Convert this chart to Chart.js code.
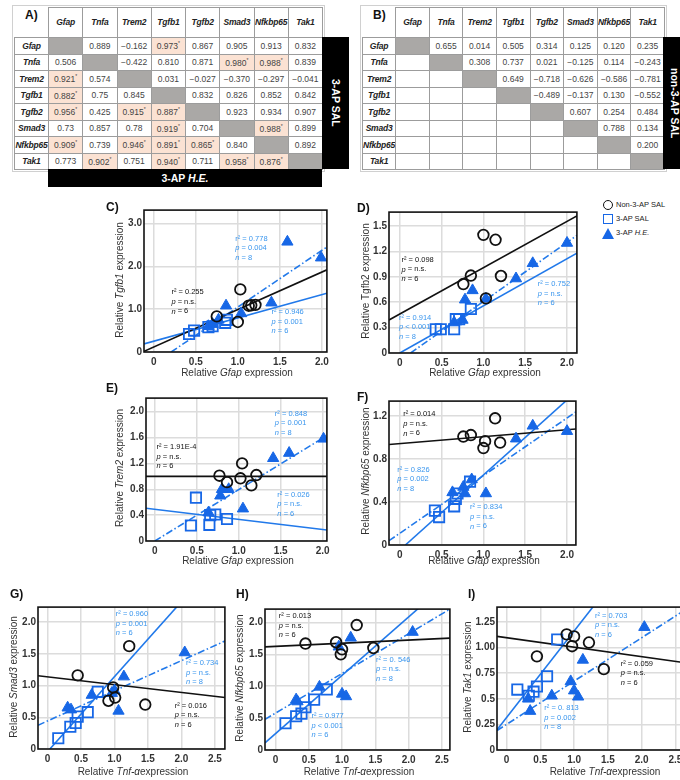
<!DOCTYPE html>
<html>
<head>
<meta charset="utf-8">
<script src="https://cdn.jsdelivr.net/npm/chart.js@4.4.1/dist/chart.umd.min.js"></script>
<style>
body{margin:0;background:#fff;font-family:"Liberation Sans",Arial,sans-serif;}
#page{position:relative;width:680px;height:780px;overflow:hidden;background:#fff;}
.abs{position:absolute;white-space:nowrap;}
.letter{font-weight:bold;font-size:12px;color:#111;}
.ytitle{font-size:10px;color:#333;transform:translate(-50%,-50%) rotate(-90deg);}
.xtitle{font-size:10px;color:#333;transform:translate(-50%,-50%);}
table.corr{position:absolute;border-collapse:collapse;table-layout:fixed;font-size:8.5px;color:#444;outline:1px solid #d0d0d0;outline-offset:1px;}
table.corr td{border:1px solid #9c9c9c;text-align:center;padding:0;line-height:1;overflow:hidden;white-space:nowrap;}
table.corr tr{height:16.5px;}
table.corr tr.head{height:30px;}
table.corr td.gene{font-weight:bold;font-style:italic;color:#222;font-size:8.5px;letter-spacing:-0.2px;}
table.corr td.diag{background:#aaa8a6;}
table.corr td.hi{background:#fbe2d3;}
table.corr sup{font-size:5px;}
.bar{position:absolute;background:#000;color:#fff;font-weight:bold;font-size:10.5px;display:flex;align-items:center;justify-content:center;}
.vbar{writing-mode:vertical-rl;}
.leg{position:absolute;font-size:7.5px;color:#222;white-space:nowrap;}
</style>
</head>
<body>
<div id="page"></div>
<script>
//genes in the correlation tables
const genes = ['Gfap','Tnfa','Trem2','Tgfb1','Tgfb2','Smad3','Nfkbp65','Tak1'];

//table A (3-AP groups), '*' = significant
const tableA = [
    ['', '0.889', '−0.162', '0.973*', '0.867', '0.905', '0.913', '0.832'],
    ['0.506', '', '−0.422', '0.810', '0.871', '0.980*', '0.988*', '0.839'],
    ['0.921*', '0.574', '', '0.031', '−0.027', '−0.370', '−0.297', '−0.041'],
    ['0.882*', '0.75', '0.845', '', '0.832', '0.826', '0.852', '0.842'],
    ['0.956*', '0.425', '0.915*', '0.887*', '', '0.923', '0.934', '0.907'],
    ['0.73', '0.857', '0.78', '0.919*', '0.704', '', '0.988*', '0.899'],
    ['0.909*', '0.739', '0.946*', '0.891*', '0.865*', '0.840', '', '0.892'],
    ['0.773', '0.902*', '0.751', '0.940*', '0.711', '0.958*', '0.876*', '']
];

//table B (non-3-AP SAL)
const tableB = [
    ['', '0.655', '0.014', '0.505', '0.314', '0.125', '0.120', '0.235'],
    ['', '', '0.308', '0.737', '0.021', '−0.125', '0.114', '−0.243'],
    ['', '', '', '0.649', '−0.718', '−0.626', '−0.586', '−0.781'],
    ['', '', '', '', '−0.489', '−0.137', '0.130', '−0.552'],
    ['', '', '', '', '', '0.607', '0.254', '0.484'],
    ['', '', '', '', '', '', '0.788', '0.134'],
    ['', '', '', '', '', '', '', '0.200'],
    ['', '', '', '', '', '', '', '']
];

//tick labels
const gfapTicks = ['0','0.5','1.0','1.5','2.0'];
const tnfTicks = ['0','0.5','1.0','1.5','2.0','2.5'];
const cTicksY = ['0','1.0','2.0','3.0'];
const dTicksY = ['0','0.3','0.6','0.9','1.2','1.5'];
const eTicksY = ['0','0.4','0.8','1.2','1.6','2.0'];
const fTicksY = ['0','0.4','0.8','1.2'];
const ghTicksY = ['0','0.5','1.0','1.5','2.0'];
const iTicksY = ['0','0.25','0.5','0.75','1.00','1.25'];

//C) Tgfb1 vs Gfap
const cNon = [[0.75,0.83],[1.03,1.46],[1.0,0.7],[1.13,1.08],[1.21,1.1],[1.16,1.09]];
const cSal = [[0.42,0.42],[0.48,0.5],[0.65,0.58],[0.7,0.6],[0.85,0.68],[0.87,0.75]];
const cHe = [[0.65,0.6],[0.7,0.65],[0.77,0.75],[0.86,1.08],[1.04,0.9],[1.4,1.15],[1.59,2.57],[1.99,2.2]];
const cFitNon = [[-0.116,0.016],[2.06,1.917]];
const cFitSal = [[-0.116,0.19],[2.06,1.37]];
const cFitHe = [[0.207,0],[2.06,2.45]];
const cNotes = [['r² = 0.255','p = n.s.','n = 6'],['r² = 0.778','p = 0.004','n = 8'],['r² = 0.946','p = 0.001','n = 6']];

//D) Tgfb2 vs Gfap
const dNon = [[1.0,1.396],[1.145,1.338],[0.85,0.915],[0.76,0.815],[1.21,0.91],[1.03,0.646]];
const dSal = [[0.43,0.28],[0.49,0.28],[0.65,0.28],[0.67,0.4],[0.71,0.4],[0.85,0.52]];
const dHe = [[0.65,0.36],[0.75,0.39],[0.78,0.63],[0.87,0.74],[1.03,0.64],[1.39,0.88],[1.59,1.06],[2.0,1.3]];
const dFitNon = [[-0.129,0.39],[2.118,1.62]];
const dFitSal = [[0,0],[2.118,1.18]];
const dFitHe = [[0.13,0],[2.118,1.39]];
const dNotes = [['r² = 0.098','p = n.s.','n = 6'],['r² = 0.914','p < 0.001','n = 8'],['r² = 0.752','p = n.s.','n = 6']];

//E) Trem2 vs Gfap
const eNon = [[0.77,1.01],[0.86,0.91],[1.02,0.97],[1.04,1.2],[1.21,1.02],[1.15,0.86]];
const eSal = [[0.43,0.24],[0.49,0.67],[0.65,0.25],[0.66,0.4],[0.72,0.41],[0.86,0.34]];
const eHe = [[0.64,0.44],[0.78,0.7],[0.8,0.8],[0.88,0.8],[1.05,0.5],[1.41,1.28],[1.6,1.36],[2.01,1.58]];
const eFitNon = [[-0.105,1.0],[2.05,1.0]];
const eFitSal = [[-0.105,0.506],[2.05,0.17]];
const eFitHe = [[0,0],[2.05,1.63]];
const eNotes = [['r² = 1.91E-4','p = n.s.','n = 6'],['r² = 0.848','p = 0.001','n = 8'],['r² = 0.026','p = n.s.','n = 6']];

//F) Nfkbp65 vs Gfap
const fNon = [[0.76,1.01],[0.85,1.024],[1.02,0.967],[1.0,0.903],[1.14,1.18],[1.2,0.954]];
const fSal = [[0.42,0.32],[0.47,0.26],[0.65,0.36],[0.67,0.43],[0.69,0.48],[0.84,0.59]];
const fHe = [[0.63,0.49],[0.76,0.54],[0.78,0.48],[0.86,0.61],[1.03,0.48],[1.39,0.99],[1.59,1.11],[2.0,1.06]];
const fFitNon = [[-0.129,0.936],[2.106,1.08]];
const fFitSal = [[0.067,0],[2.106,1.425]];
const fFitHe = [[-0.129,0.04],[2.106,1.24]];
const fNotes = [['r² = 0.014','p = n.s.','n = 6'],['r² = 0.826','p = 0.002','n = 8'],['r² = 0.834','p = n.s.','n = 6']];

//G) Smad3 vs Tnf-a
const gNon = [[0.45,1.16],[1.22,1.62],[0.98,0.97],[0.91,0.76],[1.01,0.81],[1.46,0.7]];
const gSal = [[0.16,0.17],[0.34,0.35],[0.42,0.41],[0.45,0.51],[0.6,0.58],[0.75,0.9]];
const gHe = [[0.3,0.65],[0.35,0.62],[0.66,0.85],[0.96,0.88],[1.0,0.92],[1.06,0.6],[1.14,1.14],[2.05,1.52]];
const gFitNon = [[-0.143,1.154],[2.65,0.81]];
const gFitSal = [[0.034,0],[2.0,2.32]];
const gFitHe = [[-0.143,0.374],[2.65,1.7]];
const gNotes = [['r² = 0.016','p = n.s.','n = 6'],['r² = 0.734','p = n.s.','n = 8'],['r² = 0.960','p = 0.001','n = 6']];

//H) Nfkbp65 vs Tnf-a
const hNon = [[0.45,1.67],[0.91,1.69],[1.0,1.58],[0.98,1.5],[1.22,1.96],[1.47,1.6]];
const hSal = [[0.15,0.42],[0.31,0.53],[0.39,0.57],[0.45,0.67],[0.58,0.79],[0.77,0.95]];
const hHe = [[0.31,0.79],[0.33,0.76],[0.66,0.99],[0.95,1.62],[1.0,0.88],[1.06,0.84],[1.13,1.76],[2.06,1.85]];
const hFitNon = [[-0.158,1.617],[2.62,1.755]];
const hFitSal = [[-0.158,0.112],[2.2,2.27]];
const hFitHe = [[-0.158,0.48],[2.62,2.21]];
const hNotes = [['r² = 0.013','p = n.s.','n = 6'],['r² = 0. 546','p = n.s.','n = 8'],['r² = 0.977','p < 0.001','n = 6']];

//I) Tak1 vs Tnf-a
const iNon = [[0.45,0.915],[0.89,1.13],[1.0,1.11],[0.97,1.014],[1.22,1.05],[1.44,0.79]];
const iSal = [[0.16,0.59],[0.33,0.53],[0.4,0.57],[0.45,0.62],[0.6,0.72],[0.75,1.08]];
const iHe = [[0.32,0.5],[0.35,0.38],[0.67,0.53],[0.95,0.67],[1.0,0.58],[1.06,0.52],[1.13,0.88],[2.04,1.2]];
const iFitNon = [[-0.141,1.11],[2.67,0.85]];
const iFitSal = [[-0.141,0.198],[1.4,1.5]];
const iFitHe = [[-0.141,0.19],[2.67,1.38]];
const iNotes = [['r² = 0.059','p = n.s.','n = 6'],['r² = 0. 813','p = 0.002','n = 8'],['r² = 0.703','p = n.s.','n = 6']];

//colors
const black = '#111111';
const blue = '#1767e6';
const lineBlue = '#2179ea';
const noteBlue = '#3a96ee';

const page = document.getElementById('page');

function addText(html, cls, x, y){
    let d = document.createElement('div');
    d.className = 'abs ' + cls;
    d.style.left = x + 'px';
    d.style.top = y + 'px';
    d.innerHTML = html;
    page.appendChild(d);
    return d;
}

//build a correlation table from rows of strings
function buildTable(rows, left, labelW, colW){
    let t = document.createElement('table');
    t.className = 'corr';
    t.style.left = left + 'px';
    t.style.top = '7px';
    let html = '<colgroup><col style="width:' + labelW + 'px">';
    for(let i=0;i<genes.length;i++) html += '<col style="width:' + colW + 'px">';
    html += '</colgroup><tr class="head"><td style="border-top-color:#fff;border-left-color:#fff"></td>';
    for(let g of genes) html += '<td class="gene">' + g + '</td>';
    html += '</tr>';
    for(let i=0;i<rows.length;i++){
        html += '<tr><td class="gene">' + genes[i] + '</td>';
        for(let j=0;j<rows[i].length;j++){
            let v = rows[i][j];
            if(i == j) html += '<td class="diag"></td>';
            else if(v.endsWith('*')) html += '<td class="hi">' + v.slice(0,-1) + '<sup>*</sup></td>';
            else html += '<td>' + v + '</td>';
        }
        html += '</tr>';
    }
    t.innerHTML = html;
    page.appendChild(t);
}

buildTable(tableA, 14, 34, 34.25);
buildTable(tableB, 362, 32, 33.6);
addText('A)', 'letter', 25, 8);
addText('B)', 'letter', 373, 8);

//black bars with group names
function addBar(html, cls, x, y, w, h){
    let d = document.createElement('div');
    d.className = 'bar ' + cls;
    d.style.left = x + 'px'; d.style.top = y + 'px';
    d.style.width = w + 'px'; d.style.height = h + 'px';
    d.innerHTML = '<span>' + html + '</span>';
    page.appendChild(d);
}
addBar('3-AP SAL', 'vbar', 322, 37, 27, 132);
addBar('3-AP <i>H.E.</i>', '', 48, 169, 274, 18);
addBar('non-3-AP SAL', 'vbar', 663, 37, 24, 132);

//draw text with italic parts on the canvas
function drawRich(ctx, x, y, parts){
    let cx = x;
    for(let p of parts){
        ctx.font = (p[1] ? 'italic ' : '') + '7.5px "Liberation Sans"';
        ctx.fillText(p[0], cx, y);
        cx += ctx.measureText(p[0]).width;
    }
}

//plugin: r2/p/n notes and the black frame
const framePlugin = {
    id: 'frame',
    afterDatasetsDraw(chart, args, opts){
        const ctx = chart.ctx;
        const a = chart.chartArea;
        ctx.save();
        ctx.textBaseline = 'middle';
        for(let n of opts.notes){
            let px = chart.scales.x.getPixelForValue(n.x);
            let py = chart.scales.y.getPixelForValue(n.y);
            ctx.fillStyle = n.color;
            n.lines.forEach((line, i) => {
                let parts = i == 0 ? [[line, false]] : [[line[0], true], [line.slice(1), false]];
                drawRich(ctx, px, py + i * 9.5, parts);
            });
        }
        ctx.strokeStyle = black;
        ctx.lineWidth = 1.6;
        ctx.strokeRect(a.left, a.top, a.right - a.left, a.bottom - a.top);
        ctx.restore();
    }
};

function toXY(arr){
    return arr.map(p => ({x: p[0], y: p[1]}));
}

function axis(range, ticks, size, isX){
    return {
        type: 'linear',
        min: range[0],
        max: range[1],
        afterBuildTicks: s => { s.ticks = ticks.map(t => ({value: parseFloat(t)})); },
        afterFit: s => { if(isX) s.height = size; else s.width = size; },
        ticks: {
            callback: (v, i) => ticks[i],
            font: {family: 'Liberation Sans', size: 10, weight: 'bold'},
            color: '#333',
            padding: isX ? 4 : 2,
            autoSkip: false,
            maxRotation: 0
        },
        grid: {color: '#dcdcdc', lineWidth: 1.5, drawTicks: false},
        border: {display: false}
    };
}

//one scatter panel
function makePanel(p){
    const yw = 30, xh = 20, pt = 6, pr = 6;
    const [L, T, R, B] = p.box;
    let c = document.createElement('canvas');
    c.width = R - L + yw + pr;
    c.height = B - T + pt + xh;
    c.style.position = 'absolute';
    c.style.left = (L - yw) + 'px';
    c.style.top = (T - pt) + 'px';
    page.appendChild(c);

    const fit = (d, color, dash) => ({data: toXY(d), showLine: true, pointRadius: 0, borderColor: color, borderWidth: 1.6, borderDash: dash});
    new Chart(c.getContext('2d'), {
        type: 'scatter',
        data: {
            datasets: [
                {data: toXY(p.non), pointStyle: 'circle', pointRadius: 5.3, borderColor: black, borderWidth: 1.8, backgroundColor: 'rgba(0,0,0,0)'},
                {data: toXY(p.sal), pointStyle: 'rect', pointRadius: 7.3, borderColor: blue, borderWidth: 1.8, backgroundColor: 'rgba(255,255,255,0)'},
                {data: toXY(p.he), pointStyle: 'triangle', pointRadius: 6.5, borderColor: blue, borderWidth: 1, backgroundColor: blue},
                fit(p.fits[0], black, []),
                fit(p.fits[1], lineBlue, []),
                fit(p.fits[2], lineBlue, [7, 2.5, 1.5, 2.5])
            ]
        },
        options: {
            responsive: false,
            animation: false,
            events: [],
            layout: {padding: {top: pt, right: pr, left: 0, bottom: 0}},
            plugins: {
                legend: {display: false},
                tooltip: {enabled: false},
                frame: {notes: p.notes}
            },
            scales: {
                x: axis(p.xr, p.xt, xh, true),
                y: axis(p.yr, p.yt, yw, false)
            }
        },
        plugins: [framePlugin]
    });

    addText(p.letter + ')', 'letter', p.letterAt[0], p.letterAt[1]);
    addText(p.ytitle, 'ytitle', p.yAt[0], p.yAt[1]);
    addText(p.xtitle, 'xtitle', p.xAt[0], p.xAt[1]);
}

const gfapTitle = 'Relative <i>Gfap</i> expression';
const tnfTitle = 'Relative <i>Tnf-α</i>expression';

function notes(list, spots){
    return list.map((lines, i) => ({lines: lines, color: spots[i][0], x: spots[i][1], y: spots[i][2]}));
}

const panels = [
    {letter: 'C', box: [144,207,330,352], xr: [-0.116,2.06], yr: [0,3.31], xt: gfapTicks, yt: cTicksY,
     non: cNon, sal: cSal, he: cHe, fits: [cFitNon,cFitSal,cFitHe],
     notes: notes(cNotes, [[black,0.21,1.39],[noteBlue,0.97,2.64],[noteBlue,1.4,0.93]]),
     letterAt: [106,200], ytitle: 'Relative <i>Tgfb1</i> expression', yAt: [119,280], xtitle: gfapTitle, xAt: [237,372]},
    {letter: 'D', box: [389,209,580,353], xr: [-0.129,2.118], yr: [0,1.665], xt: gfapTicks, yt: dTicksY,
     non: dNon, sal: dSal, he: dHe, fits: [dFitNon,dFitSal,dFitHe],
     notes: notes(dNotes, [[black,0.02,1.1],[noteBlue,-0.01,0.42],[noteBlue,1.65,0.815]]),
     letterAt: [357,201], ytitle: 'Relative Tgfb2 expression', yAt: [365,281], xtitle: gfapTitle, xAt: [485,372]},
    {letter: 'E', box: [146,395,330,541], xr: [-0.105,2.05], yr: [0,2.21], xt: gfapTicks, yt: eTicksY,
     non: eNon, sal: eSal, he: eHe, fits: [eFitNon,eFitSal,eFitHe],
     notes: notes(eNotes, [[black,0.02,1.45],[noteBlue,1.43,1.97],[noteBlue,1.46,0.72]]),
     letterAt: [106,381], ytitle: 'Relative <i>Trem2</i> expression', yAt: [119,468], xtitle: gfapTitle, xAt: [238,560]},
    {letter: 'F', box: [389,398,579,545], xr: [-0.129,2.106], yr: [0,1.34], xt: gfapTicks, yt: fTicksY,
     non: fNon, sal: fSal, he: fHe, fits: [fFitNon,fFitSal,fFitHe],
     notes: notes(fNotes, [[black,0.04,1.216],[noteBlue,-0.03,0.7],[noteBlue,0.84,0.35]]),
     letterAt: [357,390], ytitle: 'Relative <i>Nfkbp65</i> expression', yAt: [365,471], xtitle: gfapTitle, xAt: [484,560]},
    {letter: 'G', box: [38,604,228,749], xr: [-0.143,2.65], yr: [0,2.235], xt: tnfTicks, yt: ghTicksY,
     non: gNon, sal: gSal, he: gHe, fits: [gFitNon,gFitSal,gFitHe],
     notes: notes(gNotes, [[black,1.9,0.68],[noteBlue,2.07,1.35],[noteBlue,1.02,2.12]]),
     letterAt: [10,587], ytitle: 'Relative <i>Smad3</i> expression', yAt: [13,677], xtitle: tnfTitle, xAt: [133,771]},
    {letter: 'H', box: [265,606,453,750], xr: [-0.158,2.62], yr: [0,2.21], xt: tnfTicks, yt: ghTicksY,
     non: hNon, sal: hSal, he: hHe, fits: [hFitNon,hFitSal,hFitHe],
     notes: notes(hNotes, [[black,0.05,2.1],[noteBlue,1.51,1.42],[noteBlue,0.54,0.53]]),
     letterAt: [236,587], ytitle: 'Relative <i>Nfkbp65</i> expression', yAt: [239,678], xtitle: tnfTitle, xAt: [359,771]},
    {letter: 'I', box: [497,604,690,750], xr: [-0.141,2.67], yr: [0,1.396], xt: tnfTicks, yt: iTicksY,
     non: iNon, sal: iSal, he: iHe, fits: [iFitNon,iFitSal,iFitHe],
     notes: notes(iNotes, [[black,1.69,0.845],[noteBlue,0.56,0.41],[noteBlue,1.31,1.31]]),
     letterAt: [468,587], ytitle: 'Relative <i>Tak1</i> expression', yAt: [467,677], xtitle: tnfTitle, xAt: [605,771]}
];

for(let p of panels) makePanel(p);

//legend next to D
function legendItem(symbolCss, html, y){
    let s = document.createElement('div');
    s.className = 'abs';
    s.style.cssText += symbolCss;
    s.style.top = (y - 5) + 'px';
    page.appendChild(s);
    addText(html, 'leg', 616, y - 5);
}
legendItem('left:603px;width:8px;height:8px;border:1.8px solid ' + black + ';border-radius:50%;', 'Non-3-AP SAL', 205);
legendItem('left:603px;width:8px;height:8px;border:1.8px solid ' + blue + ';', '3-AP SAL', 219);
legendItem('left:602px;width:0;height:0;border-left:6px solid transparent;border-right:6px solid transparent;border-bottom:11px solid ' + blue + ';', '3-AP <i>H.E.</i>', 233);
</script>
</body>
</html>
